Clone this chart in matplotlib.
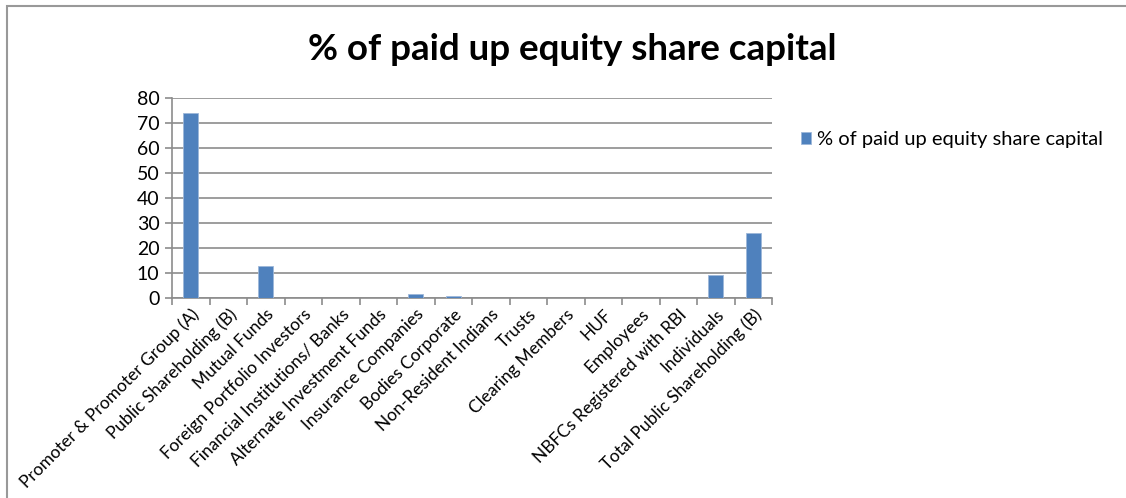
import matplotlib
matplotlib.use("Agg")
import matplotlib.pyplot as plt
from matplotlib.patches import Rectangle

plt.rcParams['font.family'] = ['Lato', 'DejaVu Sans']

categories = [
    "Promoter & Promoter Group (A)", "Public Shareholding (B)", "Mutual Funds",
    "Foreign Portfolio Investors", "Financial Institutions/ Banks",
    "Alternate Investment Funds", "Insurance Companies", "Bodies Corporate",
    "Non-Resident Indians", "Trusts", "Clearing Members", "HUF", "Employees",
    "NBFCs Registered with RBI", "Individuals", "Total Public Shareholding (B)",
]
values = [73.9, 0, 12.8, 0.2, 0.05, 0, 1.8, 0.7, 0.2, 0.02, 0.02, 0.2, 0.02, 0.01, 9.3, 26.1]
series_name = "% of paid up equity share capital"
yticks = [0, 10, 20, 30, 40, 50, 60, 70, 80]

W, H = 1126, 498
fig = plt.figure(figsize=(W / 100, H / 100), dpi=100)
ax = fig.add_axes([172 / W, 1 - 298 / H, 600 / W, 200 / H])

x = list(range(len(categories)))
ax.bar(x, values, width=0.4, color='#4F81BD', edgecolor='#9DB7D9', linewidth=0.6,
       label=series_name, zorder=3)

ax.set_xlim(-0.5, len(categories) - 0.5)
ax.set_ylim(0, 80)
ax.set_yticks(yticks)
ax.yaxis.grid(True, color='#8C8C8C', linewidth=1.2, zorder=0)
for s in ['top', 'right']:
    ax.spines[s].set_visible(False)
for s in ['left', 'bottom']:
    ax.spines[s].set_color('#8C8C8C')
    ax.spines[s].set_linewidth(1.2)

# tick marks between categories, labels at centers
ax.set_xticks([i - 0.5 for i in range(len(categories) + 1)], minor=False)
ax.set_xticklabels([])
ax.set_xticks(x, minor=True)
ax.set_xticklabels(categories, minor=True, rotation=45, ha='right',
                   rotation_mode='anchor', fontsize=12.5)
ax.tick_params(axis='x', which='major', length=5, color='#8C8C8C', width=1.2)
ax.tick_params(axis='x', which='minor', length=0, pad=6)
ax.tick_params(axis='y', length=5, color='#8C8C8C', width=1.2, labelsize=14, pad=4)

fig.text(572 / W, 1 - 50 / H, series_name, ha='center', va='center',
         fontsize=26.5, fontweight='bold')

ax.legend(loc='upper left', bbox_to_anchor=(783 / W, 1 - 113 / H),
          bbox_transform=fig.transFigure, frameon=False, fontsize=14.5,
          handlelength=0.5, handleheight=0.5, handletextpad=0.3)

fig.patches.append(Rectangle((7 / W, -0.1), 1.2, 1 - 6 / H + 0.1,
                             transform=fig.transFigure, fill=False,
                             edgecolor='#999999', linewidth=1.5))

fig.savefig("out.png", dpi=100)
